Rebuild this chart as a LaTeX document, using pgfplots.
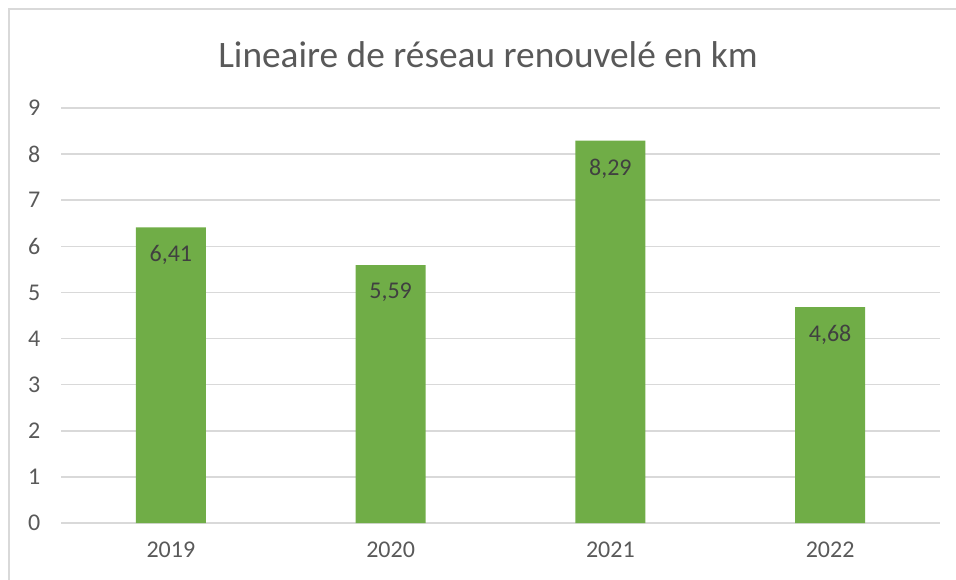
\documentclass[border=0pt]{standalone}
\usepackage{pgfplots}
\pgfplotsset{compat=1.18}
\usepackage{fontspec}
\setmainfont{Carlito}
\definecolor{bargreen}{HTML}{70AD47}
\definecolor{gridgray}{HTML}{D9D9D9}
\definecolor{txtgray}{HTML}{595959}
\definecolor{lblgray}{HTML}{404040}
\begin{document}
\begin{tikzpicture}
\useasboundingbox (0pt,0pt) rectangle (717pt,434.25pt);
% chart frame (only left and top edges fall inside the picture)
\draw[gridgray, line width=1.5pt] (6.75pt,-10pt) -- (6.75pt,427.5pt) -- (730pt,427.5pt);
\node[txtgray, font=\fontsize{28}{32}\selectfont] at (366pt,393pt) {Lineaire de réseau renouvelé en km};
\begin{axis}[
    at={(45.75pt,42pt)}, anchor=south west,
    width=659.25pt, height=311.25pt, scale only axis,
    xmin=-0.5, xmax=3.5, ymin=0, ymax=9,
    xtick=data, xticklabels={2019,2020,2021,2022},
    ytick={0,1,...,9},
    ymajorgrids, grid style={gridgray, line width=1.1pt},
    axis line style={draw=none},
    major tick length=0pt,
    tick label style={txtgray, font=\fontsize{18}{21}\selectfont},
    /pgf/number format/assume math mode=true,
    yticklabel style={xshift=-12pt},
    xticklabel style={yshift=-11pt},
    ybar, bar width=0.318,
    nodes near coords,
    every node near coord/.append style={lblgray, font=\fontsize{18}{21}\selectfont, anchor=north, yshift=-10pt,
        /pgf/number format/.cd, fixed, fixed zerofill, precision=2, use comma, assume math mode=true},
]
\addplot[fill=bargreen, draw=none] coordinates {(0,6.41) (1,5.59) (2,8.29) (3,4.68)};
\end{axis}
\end{tikzpicture}
\end{document}
